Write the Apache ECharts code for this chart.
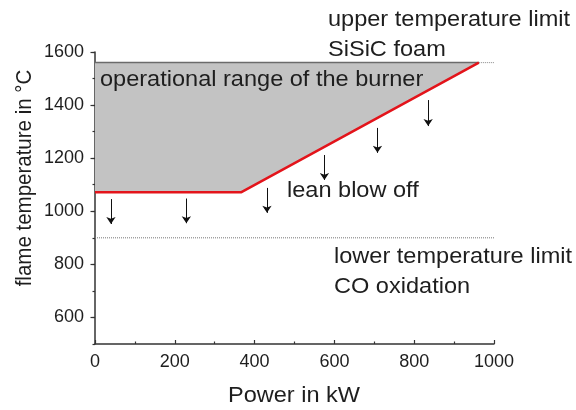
<!DOCTYPE html>
<html>
<head>
<meta charset="utf-8">
<script src="https://cdn.jsdelivr.net/npm/echarts@6/dist/echarts.min.js"></script>
<style>html,body{margin:0;padding:0;background:#fff}#c{width:576px;height:410px}</style>
</head>
<body>
<div id="c"></div>
<script>
// ---- data ----
const xMin = 0, xMax = 1000;
const yMin = 500, yMax = 1600;
const yTickLabels = [600, 800, 1000, 1200, 1400, 1600];
const upperLimit = 1560;
const lowerLimit = 900;
const boundaryX = [0, 367, 962];
const boundaryY = [1072, 1072, 1560];
const arrowX = [40, 229, 431, 575, 708, 835];
const arrowTop = [1046, 1048, 1088, 1212, 1314, 1419];
const arrowBottom = [952, 955, 994, 1118, 1220, 1321];
const annotations = ['operational range of the burner', 'upper temperature limit', 'SiSiC foam', 'lean blow off', 'lower temperature limit', 'CO oxidation'];
const xName = 'Power in kW';
const yName = 'flame temperature in °C';

// ---- derived ----
const redLine = boundaryX.map((x, i) => [x, boundaryY[i]]);
const polygon = [[0, upperLimit], [boundaryX[2], upperLimit]].concat(redLine.slice().reverse());
const arrows = arrowX.map((x, i) => ({ coords: [[x, arrowTop[i]], [x, arrowBottom[i]]] }));

const FONT = '"Liberation Sans", Arial, sans-serif';
const TXT = '#1e1e1e';
const AX = '#333';
const SX = 1.07;

function label(text, x, y, extra) {
  return Object.assign({ type: 'text', z: 20, x: x, y: y, scaleX: SX,
    style: { text: text, font: '22px ' + FONT, fill: TXT, verticalAlign: 'middle' } }, extra || {});
}

const chart = echarts.init(document.getElementById('c'));
chart.setOption({
  animation: false,
  grid: { left: 95, right: 82, top: 52, bottom: 66, outerBoundsMode: 'none', containLabel: false },
  xAxis: {
    type: 'value', min: xMin, max: xMax, interval: 200,
    axisLine: { lineStyle: { color: AX, width: 1.5 } },
    axisTick: { inside: true, length: 4, lineStyle: { color: AX, width: 1.2 } },
    minorTick: { show: true, splitNumber: 2, length: 2.5, lineStyle: { color: AX, width: 1.2 } },
    axisLabel: { fontFamily: FONT, fontSize: 18, color: TXT, margin: 9, formatter: v => String(v) },
    splitLine: { show: false }
  },
  yAxis: [{
    type: 'value', min: yMin, max: yMax, interval: 100,
    axisLine: { show: true, lineStyle: { color: AX, width: 1.5 } },
    axisTick: { show: true, length: 2.5, lineStyle: { color: AX, width: 1.2 } },
    axisLabel: { fontFamily: FONT, fontSize: 18, color: TXT, margin: 11,
      formatter: v => (yTickLabels.indexOf(v) >= 0 ? String(v) : '') },
    splitLine: { show: false }
  }, {
    type: 'value', min: yMin, max: yMax, interval: 100, position: 'left',
    axisLine: { show: false },
    axisTick: { show: true, length: 4.5, customValues: yTickLabels, lineStyle: { color: AX, width: 1.2 } },
    axisLabel: { show: false },
    splitLine: { show: false }
  }],
  series: [
    {
      type: 'custom', z: 1,
      renderItem: (params, api) => ({
        type: 'polygon',
        shape: { points: polygon.map(p => api.coord(p)) },
        style: { fill: '#c3c3c3', stroke: 'none' }
      }),
      data: [0]
    },
    { type: 'line', z: 2, data: [[0, upperLimit], [boundaryX[2], upperLimit]], symbol: 'none',
      lineStyle: { color: '#6b6b6b', width: 1.5 } },
    { type: 'line', z: 2, data: [[boundaryX[2], upperLimit], [xMax, upperLimit]], symbol: 'none',
      lineStyle: { color: '#888', width: 1, type: 'dotted' } },
    { type: 'line', z: 2, data: [[xMin, lowerLimit], [xMax, lowerLimit]], symbol: 'none',
      lineStyle: { color: '#777', width: 1, type: 'dotted' } },
    { type: 'line', z: 3, data: redLine, symbol: 'none',
      lineStyle: { color: '#e3141b', width: 2.5 } },
    { type: 'lines', coordinateSystem: 'cartesian2d', z: 3, data: arrows,
      symbol: ['none', 'arrow'], symbolSize: [0, 7],
      lineStyle: { color: '#111', width: 1, opacity: 1 } }
  ],
  graphic: [
    { type: 'text', z: 20, x: 25, y: 178, rotation: Math.PI / 2, scaleY: SX,
      style: { text: yName, font: '20.5px ' + FONT, fill: TXT, align: 'center', verticalAlign: 'middle' } },
    { type: 'text', z: 20, x: 294, y: 396, scaleX: SX,
      style: { text: xName, font: '22px ' + FONT, fill: TXT, align: 'center', verticalAlign: 'middle' } },
    label(annotations[0], 100, 80),
    label(annotations[1], 328, 20),
    label(annotations[2], 328, 50),
    label(annotations[3], 287, 191),
    label(annotations[4], 334, 257),
    label(annotations[5], 334, 287)
  ]
});
</script>
</body>
</html>
